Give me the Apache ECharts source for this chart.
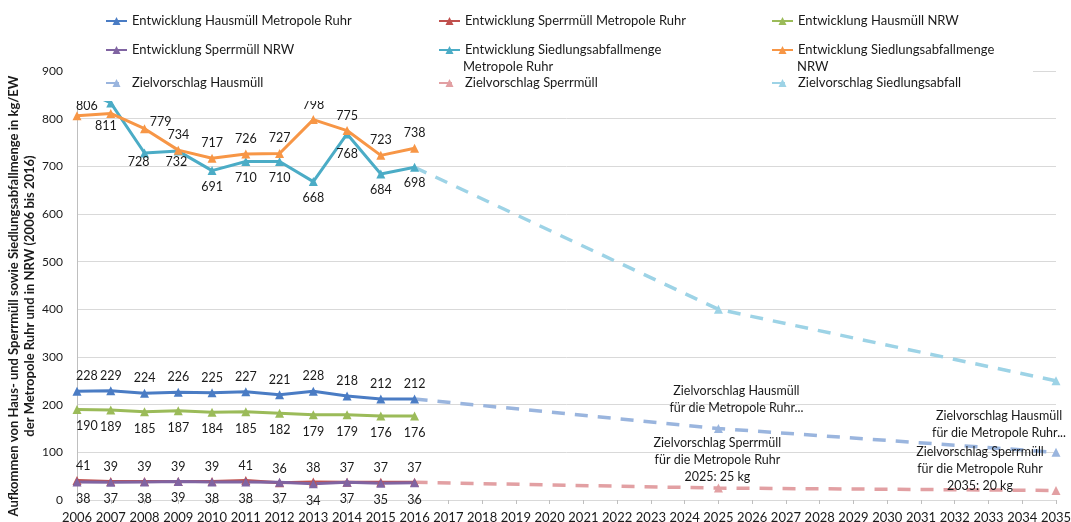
<!DOCTYPE html>
<html>
<head>
<meta charset="utf-8">
<script src="https://cdn.jsdelivr.net/npm/echarts@6/dist/echarts.min.js"></script>
<style>
  html, body { margin: 0; padding: 0; background: #fff; }
  #chart { width: 1071px; height: 522px; }
</style>
</head>
<body>
<div id="chart"></div>
<script>
// Jahre auf der x-Achse
const years = ['2006','2007','2008','2009','2010','2011','2012','2013','2014','2015','2016',
  '2017','2018','2019','2020','2021','2022','2023','2024','2025','2026','2027','2028','2029',
  '2030','2031','2032','2033','2034','2035'];

// Entwicklung 2006 bis 2016 in kg/EW
const hausmuellRuhr  = [228, 229, 224, 226, 225, 227, 221, 228, 218, 212, 212];
const sperrmuellRuhr = [41, 39, 39, 39, 39, 41, 36, 38, 37, 37, 37];
const hausmuellNRW   = [190, 189, 185, 187, 184, 185, 182, 179, 179, 176, 176];
const sperrmuellNRW  = [38, 37, 38, 39, 38, 38, 37, 34, 37, 35, 36];
const siedlungRuhr   = [865, 833, 728, 732, 691, 710, 710, 668, 768, 684, 698];
const siedlungNRW    = [806, 811, 779, 734, 717, 726, 727, 798, 775, 723, 738];

// Zielvorschläge (Ausgangsjahr, 2025, 2035)
const zielYears      = ['2016', '2025', '2035'];
const zielHausmuell  = [212, 150, 100];
const zielSperrmuell = [37, 25, 20];
const zielSiedlung   = [698, 400, 250];

const FONT = 'Lato';
const TXT = '#1a1a1a';

const names = {
  hR: 'Entwicklung Hausmüll Metropole Ruhr',
  sR: 'Entwicklung Sperrmüll Metropole Ruhr',
  hN: 'Entwicklung Hausmüll NRW',
  sN: 'Entwicklung Sperrmüll NRW',
  aR: 'Entwicklung Siedlungsabfallmenge Metropole Ruhr',
  aN: 'Entwicklung Siedlungsabfallmenge NRW',
  zH: 'Zielvorschlag Hausmüll',
  zS: 'Zielvorschlag Sperrmüll',
  zA: 'Zielvorschlag Siedlungsabfall'
};

const labelFont = { fontFamily: FONT, fontSize: 12.5, color: TXT };

// Per-point label tweaks: index -> label overrides
function history(name, values, color, position, distance, tweaks) {
  tweaks = tweaks || {};
  const data = values.map((v, i) => {
    const lab = {};
    if (i === 0) { lab.align = 'left'; lab.offset = [-1, 0]; }
    if (tweaks[i]) Object.assign(lab, tweaks[i]);
    return { value: v, label: lab };
  });
  return {
    name: name, type: 'line', data: data,
    symbol: 'triangle', symbolSize: 9,
    lineStyle: { color: color, width: 3 },
    itemStyle: { color: color },
    label: Object.assign({ show: true, position: position, distance: distance }, labelFont),
    z: 2
  };
}

function target(name, values, color, labels) {
  const data = years.map(() => null);
  zielYears.forEach((y, k) => {
    const idx = years.indexOf(y);
    const item = { value: values[k] };
    if (k === 0) item.symbol = 'none';
    if (labels && labels[k]) {
      item.label = Object.assign({ show: true, position: 'top', distance: 0, align: 'center',
        lineHeight: 17 }, labelFont, labels[k]);
    }
    data[idx] = item;
  });
  return {
    name: name, type: 'line', data: data, connectNulls: true,
    symbol: 'triangle', symbolSize: 9,
    lineStyle: { color: color, width: 3.5, type: [13, 10] },
    itemStyle: { color: color },
    label: { show: false },
    z: 1
  };
}

const series = [
  history(names.hR, hausmuellRuhr, '#4a7cc4', 'top', 4),
  history(names.sR, sperrmuellRuhr, '#c0504d', 'top', 3),
  history(names.hN, hausmuellNRW, '#9bbb59', 'bottom', 6),
  history(names.sN, sperrmuellNRW, '#8064a2', 'bottom', 6),
  history(names.aR, siedlungRuhr, '#4bacc6', 'bottom', 5, {
    0: { show: false },
    1: { show: false },
    2: { offset: [-6, -7] },
    3: { offset: [-2, -5] },
    8: { offset: [0, 4] }
  }),
  history(names.aN, siedlungNRW, '#f79646', 'top', 4, {
    0: { align: 'left', offset: [-1, 5] },
    1: { position: 'bottom', distance: 2, offset: [-5, 0] },
    2: { offset: [16, 8] }
  }),
  target(names.zH, zielHausmuell, '#9ab5de', [null,
    { formatter: 'Zielvorschlag Hausmüll\nfür die Metropole Ruhr...', offset: [18, -8] },
    { formatter: 'Zielvorschlag Hausmüll\nfür die Metropole Ruhr...', offset: [-57, -6] }]),
  target(names.zS, zielSperrmuell, '#e2a0a3', [null,
    { formatter: 'Zielvorschlag Sperrmüll\nfür die Metropole Ruhr\n2025: 25 kg', offset: [-1, 2] },
    { formatter: 'Zielvorschlag Sperrmüll\nfür die Metropole Ruhr\n2035: 20 kg', offset: [-76, 9] }]),
  target(names.zA, zielSiedlung, '#9dd3e6', null)
];

// Legend: three columns, three rows
const legendSlots = [
  [names.hR, 105, 21, null], [names.sR, 438, 21, null], [names.hN, 771, 21, null],
  [names.sN, 105, 50, null], [names.aR, 438, 50, 'Entwicklung Siedlungsabfallmenge'],
  [names.aN, 771, 50, 'Entwicklung Siedlungsabfallmenge'],
  [names.zH, 105, 83, null], [names.zS, 438, 83, null], [names.zA, 771, 83, null]
];
const legends = legendSlots.map(([n, x, cy, shortText]) => ({
  data: [n], left: x, top: cy - 8, padding: 0, itemGap: 0, z: 8,
  itemWidth: 21, itemHeight: 10, selectedMode: false,
  textStyle: { fontFamily: FONT, fontSize: 13, color: TXT, lineHeight: 16 },
  formatter: shortText ? () => shortText : undefined
}));

const option = {
  animation: false,
  backgroundColor: '#fff',
  grid: { left: 77, right: 15, top: 71, bottom: 22, containLabel: false, outerBoundsMode: 'none' },
  xAxis: {
    type: 'category', data: years, boundaryGap: false,
    axisLine: { show: true, lineStyle: { color: '#d9d9d9', width: 1 } },
    axisTick: { show: true, length: 4, lineStyle: { color: '#bfbfbf' } },
    axisLabel: { interval: 0, margin: 11, fontFamily: FONT, fontSize: 13, color: TXT }
  },
  yAxis: {
    type: 'value', min: 0, max: 900, interval: 100,
    axisLine: { show: true, lineStyle: { color: '#bfbfbf' } },
    axisTick: { show: false },
    splitLine: { lineStyle: { color: '#d9d9d9', width: 1 } },
    axisLabel: { margin: 14, fontFamily: FONT, fontSize: 12, color: TXT }
  },
  legend: legends,
  series: series,
  graphic: {
    elements: [
      { type: 'rect', left: 70, top: 0, shape: { width: 963, height: 101 },
        style: { fill: '#fff' }, z: 6, silent: true },
      { type: 'text', x: 463, y: 67, z: 9, silent: true,
        style: { text: 'Metropole Ruhr', font: '13px ' + FONT, fill: TXT,
                 textAlign: 'left', textVerticalAlign: 'middle' } },
      { type: 'text', x: 797, y: 67, z: 9, silent: true,
        style: { text: 'NRW', font: '13px ' + FONT, fill: TXT,
                 textAlign: 'left', textVerticalAlign: 'middle' } },
      { type: 'text', x: 22, y: 296, rotation: Math.PI / 2, z: 9, silent: true,
        style: { text: 'Aufkommen von Haus- und Sperrmüll sowie Siedlungsabfallmenge in kg/EW\nder Metropole Ruhr und in NRW (2006 bis 2016)',
                 font: 'bold 13px ' + FONT, fill: TXT, lineHeight: 16,
                 textAlign: 'center', textVerticalAlign: 'middle' } }
    ]
  }
};

const chart = echarts.init(document.getElementById('chart'), null, { renderer: 'canvas' });
chart.setOption(option);
</script>
</body>
</html>
